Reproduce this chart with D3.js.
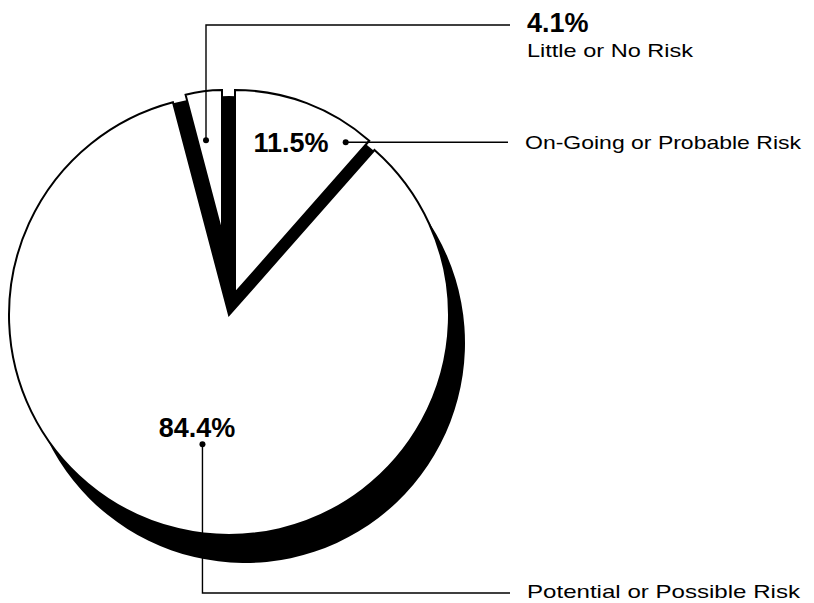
<!DOCTYPE html>
<html>
<head>
<meta charset="utf-8">
<script src="https://cdn.jsdelivr.net/npm/d3@7"></script>
<style>
  body { margin: 0; background: #fff; }
  text { font-family: "Liberation Sans", Arial, Helvetica, sans-serif; fill: #000; }
  .pct { font-weight: bold; font-size: 27px; }
  .cat { font-size: 19px; }
</style>
</head>
<body>
<div id="chart"></div>
<script>
// Data
const categories = ["On-Going or Probable Risk", "Potential or Possible Risk", "Little or No Risk"];
const shares = [11.5, 84.4, 4.1];
const shareLabels = ["11.5%", "84.4%", "4.1%"];

// Layout
const width = 814, height = 603;
const center = { x: 229, y: 315 };
const shadow = { dx: 16, dy: 28 };
// exploded offset and radius of each slice, same order as categories
const sliceLayout = [
    { dx: 6, dy: -22, r: 203 },
    { dx: 0, dy: 0, r: 220 },
    { dx: -7, dy: -82, r: 143 }
];
// label placement: dot in polar coords from slice apex, elbow and text spots
const labelLayout = [
    { dotAngle: 36.3, dotR: 187, path: "h", lineEnd: 508, pct: [291, 152, "middle"], cat: [525, 149, 276] },
    { dotAngle: 191.6, dotR: 132, path: "vh", elbowY: 593, lineEnd: 510, pct: [197, 437, "middle"], cat: [527, 598, 273] },
    { dotAngle: -9.8, dotR: 94, path: "vh", elbowY: 25, lineEnd: 510, pct: [527, 32, "start"], cat: [527, 57, 166] }
];

const svg = d3.select("#chart")
    .append("svg")
    .attr("width", width)
    .attr("height", height);

const pie = d3.pie().sort(null).startAngle(0).endAngle(2 * Math.PI);
const arcs = pie(shares);

const arcFor = r => d3.arc().innerRadius(0).outerRadius(r);
const bigR = sliceLayout[1].r;

// shadows of every slice
svg.append("g")
    .selectAll("path")
    .data(arcs)
    .join("path")
    .attr("transform", (d, i) => `translate(${center.x + sliceLayout[i].dx + shadow.dx},${center.y + sliceLayout[i].dy + shadow.dy})`)
    .attr("d", (d, i) => arcFor(sliceLayout[i].r)(d))
    .attr("fill", "#000");

// dark wedge left behind by the pulled out slices
svg.append("g")
    .selectAll("path")
    .data(arcs.filter((d, i) => i !== 1))
    .join("path")
    .attr("transform", `translate(${center.x},${center.y})`)
    .attr("d", arcFor(bigR - 1))
    .attr("fill", "#000");

// white slices
svg.append("g")
    .selectAll("path")
    .data(arcs)
    .join("path")
    .attr("transform", (d, i) => `translate(${center.x + sliceLayout[i].dx},${center.y + sliceLayout[i].dy})`)
    .attr("d", (d, i) => arcFor(sliceLayout[i].r)(d))
    .attr("fill", "#fff")
    .attr("stroke", "#000")
    .attr("stroke-width", 2)
    .attr("stroke-linejoin", "miter");

// leader lines, dots and texts
arcs.forEach((d, i) => {
    const L = labelLayout[i];
    const a = L.dotAngle * Math.PI / 180;
    const px = center.x + sliceLayout[i].dx + L.dotR * Math.sin(a);
    const py = center.y + sliceLayout[i].dy - L.dotR * Math.cos(a);

    const pts = L.path === "h"
        ? [[px, py], [L.lineEnd, py]]
        : [[px, py], [px, L.elbowY], [L.lineEnd, L.elbowY]];

    svg.append("path")
        .attr("d", d3.line()(pts))
        .attr("fill", "none")
        .attr("stroke", "#000")
        .attr("stroke-width", 1.4);

    svg.append("circle")
        .attr("cx", px)
        .attr("cy", py)
        .attr("r", 3)
        .attr("fill", "#000");

    svg.append("text")
        .attr("class", "pct")
        .attr("x", L.pct[0])
        .attr("y", L.pct[1])
        .attr("text-anchor", L.pct[2])
        .text(shareLabels[i]);

    svg.append("text")
        .attr("class", "cat")
        .attr("x", L.cat[0])
        .attr("y", L.cat[1])
        .attr("textLength", L.cat[2])
        .attr("lengthAdjust", "spacingAndGlyphs")
        .text(categories[i]);
});
</script>
</body>
</html>
